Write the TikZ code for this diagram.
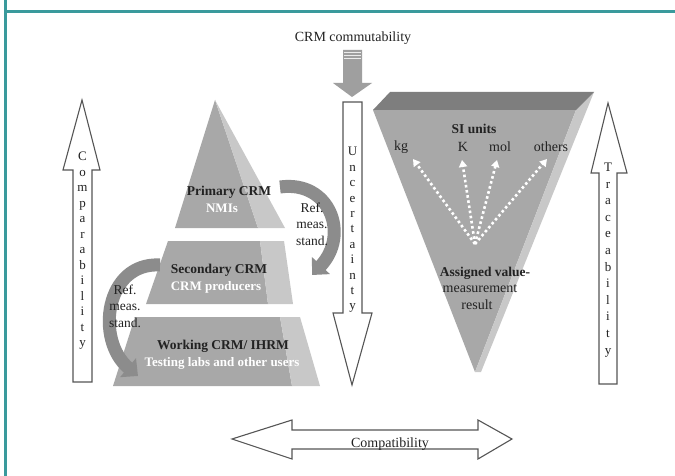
\documentclass[tikz,border=0pt]{standalone}
\usepackage{fontspec}
\setmainfont{Liberation Serif}
\usetikzlibrary{arrows.meta}
\definecolor{frameteal}{HTML}{3A9A9C}
\definecolor{outline}{HTML}{555555}
\definecolor{frontgray}{HTML}{A8A8A8}
\definecolor{sidegray}{HTML}{C8C8C8}
\definecolor{bandgray}{HTML}{7E7E7E}
\definecolor{curlgray}{HTML}{8C8C8C}
\definecolor{inkgray}{HTML}{222222}
\tikzset{
  blockarrow/.style={draw=outline, line width=1.1pt, fill=white, line join=miter},
  label/.style={font=\fontsize{14}{16}\selectfont, text=inkgray, inner sep=0pt},
  tierhead/.style={font=\bfseries\fontsize{13.5}{15}\selectfont, text=inkgray, inner sep=0pt},
  tiersub/.style={font=\bfseries\fontsize{13}{15}\selectfont, text=white, inner sep=0pt},
  letters/.style={align=center, text=inkgray, inner sep=0pt},
  refnote/.style={align=center, font=\fontsize{13.5}{16.5}\selectfont, text=inkgray, inner sep=0pt},
  curl/.style={draw=curlgray, line width=13pt, -{Triangle[length=13pt,width=24pt]}},
  unitpath/.style={draw=white, line width=2.6pt, dash pattern=on 2.6pt off 2.6pt, -{Triangle[length=7pt,width=8pt]}},
  unit/.style={font=\fontsize{14}{16}\selectfont, text=inkgray, inner sep=0pt}
}
\begin{document}
\begin{tikzpicture}[x=1pt,y=-1pt]
\useasboundingbox (0,0) rectangle (675,476);
\fill[white] (0,0) rectangle (675,476);

% frame
\draw[frameteal, line width=3pt] (5,0) -- (5,476);
\draw[frameteal, line width=3pt] (5,12) -- (675,12);

% pyramid tiers: front face and lighter right face
\fill[frontgray] (215,100) -- (175,228) -- (258,228) -- cycle;
\fill[sidegray]  (215,100) -- (258,228) -- (285,228) -- cycle;
\fill[frontgray] (168,241) -- (146,304) -- (268,304) -- (260,241) -- cycle;
\fill[sidegray]  (260,241) -- (268,304) -- (293,304) -- (284,241) -- cycle;
\fill[frontgray] (135,317) -- (113,386) -- (292,386) -- (280,317) -- cycle;
\fill[sidegray]  (280,317) -- (292,386) -- (320,386) -- (300,317) -- cycle;

\node[tierhead] (primary) at (229,192) {Primary CRM};
\node[tiersub] (nmis) at (222,208) {NMIs};
\node[tierhead] (secondary) at (219,270) {Secondary CRM};
\node[tiersub] (producers) at (216,287) {CRM producers};
\node[tierhead] (working) at (223,346) {Working CRM/ IHRM};
\node[tiersub] (users) at (222,363) {Testing labs and other users};

% curved reference-standard arrows
\coordinate (rs1) at (280,187);
\coordinate (re1) at (312,275);
\draw[curl] (rs1) .. controls (330,180) and (350,235) .. (re1);
\node[refnote] (ref1) at (312,224) {Ref.\\meas.\\stand.};
\coordinate (rs2) at (160,265);
\coordinate (re2) at (138,376);
\draw[curl] (rs2) .. controls (105,262) and (95,340) .. (re2);
\node[refnote] (ref2) at (125,306) {Ref.\\meas.\\stand.};

% inverted triangle
\fill[frontgray] (373,110) -- (576,110) -- (475,372) -- cycle;
\fill[sidegray] (576,110) -- (594,92) -- (481,372) -- (475,372) -- cycle;
\fill[bandgray] (390,92) -- (594,92) -- (576,110) -- (373,110) -- cycle;

\node[tierhead] (si) at (474,129) {SI units};
\node[unit] (kg) at (401,147) {kg};
\node[unit] (kel) at (463,147) {K};
\node[unit] (mol) at (500,147) {mol};
\node[unit] (oth) at (551,147) {others};
\coordinate (hub) at (475,244);
\draw[unitpath] (hub) -- (413,159);
\draw[unitpath] (hub) -- (462,160);
\draw[unitpath] (hub) -- (497,160);
\draw[unitpath] (hub) -- (547,159);
\node[tierhead] (assigned) at (485,273) {Assigned value-};
\node[unit] (meas) at (480,289) {measurement};
\node[unit] (result) at (477,305) {result};

% commutability arrow
\node[label] (commut) at (353,38) {CRM commutability};
\fill[gray!75] (343,50) -- (362,50) -- (362,83) -- (372,83) -- (352,97) -- (333,83) -- (343,83) -- cycle;
\foreach \yy in {52,55,58} \draw[white!85!gray, line width=0.8pt] (344,\yy) -- (361,\yy);

% uncertainty arrow
\draw[blockarrow] (343,102) -- (362,102) -- (362,313) -- (372,313) -- (352,385) -- (333,313) -- (343,313) -- cycle;
\node[letters, font=\fontsize{13}{15.4}\selectfont] (unc) at (352.5,230)
  {U\\n\\c\\e\\r\\t\\a\\i\\n\\t\\y};

% comparability arrow
\draw[blockarrow] (82,100) -- (100,170) -- (92,170) -- (92,382) -- (73,382) -- (73,170) -- (63,170) -- cycle;
\node[letters, font=\fontsize{13}{15.5}\selectfont] (comp) at (82.5,251)
  {C\\o\\m\\p\\a\\r\\a\\b\\i\\l\\i\\t\\y};

% traceability arrow
\draw[blockarrow] (608,103) -- (627,173) -- (617,173) -- (617,384) -- (599,384) -- (599,173) -- (591,173) -- cycle;
\node[letters, font=\fontsize{13}{16.6}\selectfont] (trace) at (608,260)
  {T\\r\\a\\c\\e\\a\\b\\i\\l\\i\\t\\y};

% compatibility arrow
\draw[blockarrow] (232,439) -- (292,420) -- (292,430) -- (478,430) -- (478,420) -- (512,439) -- (478,459) -- (478,449) -- (292,449) -- (292,459) -- cycle;
\node[label, anchor=base] (compat) at (390,447) {Compatibility};
\end{tikzpicture}
\end{document}
